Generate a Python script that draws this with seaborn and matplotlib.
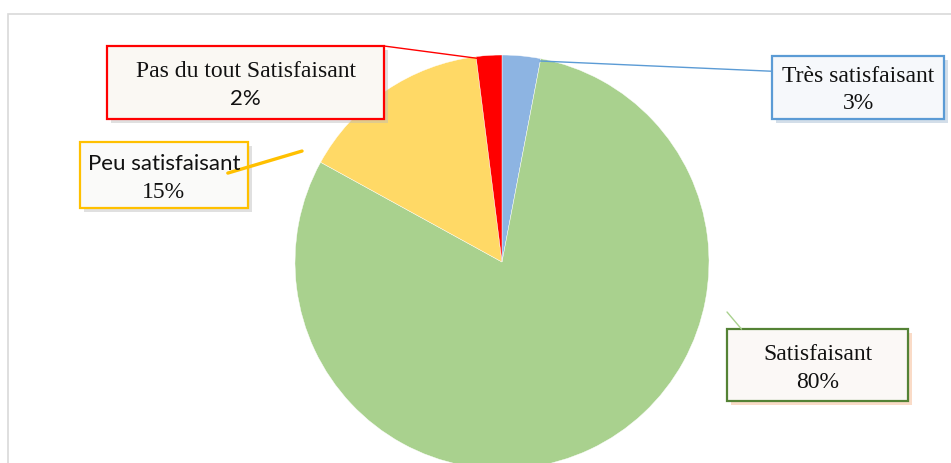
import numpy as np
import matplotlib.pyplot as plt
import matplotlib.transforms as mtransforms
import matplotlib.patheffects as pe
from matplotlib.patches import FancyBboxPatch
import seaborn as sns

# données
labels = ["Très satisfaisant", "Satisfaisant", "Peu satisfaisant", "Pas du tout Satisfaisant"]
values = [3, 80, 15, 2]
pct_labels = ["3%", "80%", "15%", "2%"]
colors = ["#8DB4E2", "#A9D18E", "#FFD966", "#FF0000"]
box_edges = ["#5B9BD5", "#548235", "#FFC000", "#FF0000"]
box_faces = ["#F6F8FB", "#FBF8F6", "#FAFAF9", "#FAF8F3"]
shadows = ["#9FB6CF", "#F4B183", "#BBBBBB", "#BBBBBB"]

sns.set_theme(style="white")
serif = ['Liberation Serif', 'DejaVu Serif']
sans = ['Lato', 'DejaVu Sans']
plt.rcParams['font.family'] = serif

fig = plt.figure(figsize=(9.51, 4.64), dpi=100)
ax = fig.add_axes([0, 0, 1, 1])
ax.pie(values, colors=colors, startangle=90, counterclock=False, radius=1,
       wedgeprops=dict(linewidth=0.3, edgecolor='white'))
ax.set_xlim(-502 / 207, 449 / 207)
ax.set_ylim(-201 / 207, 263 / 207)
ax.set_aspect('auto')
ax.axis('off')

# cadre gris
fig.add_artist(plt.Rectangle((8 / 951, -0.1), 1.2, 449 / 464 + 0.1, transform=fig.transFigure,
                             fill=False, edgecolor='#D9D9D9', lw=1.2, zorder=0))

# étiquettes : centre de la boîte, taille (px), point d'ancrage, relpos, polices
label_pos = [(1.72, 0.8454), (1.5242, -0.498), (-1.633, 0.420), (-1.2391, 0.8671)]
box_size = [(172, 63), (181, 72), (168, 66), (277, 73)]
anchor_pos = [(0.184, 0.971), (1.087, -0.2415), (-0.966, 0.536), (-0.097, 0.981)]
relpos = [(0, 0.75), (0.08, 1.0), (0.88, 0.53), (1.0, 1.0)]
line_fonts = [(serif, serif), (serif, serif), (sans, serif), (serif, sans)]
line_widths = [1.0, 1.0, 2.4, 1.0]
line_colors = ["#5B9BD5", "#A9D18E", "#FFC000", "#FF0000"]

fs = 17
up = mtransforms.offset_copy(ax.transData, fig, y=8.5, units='points')
down = mtransforms.offset_copy(ax.transData, fig, y=-11.5, units='points')
px_w = (ax.get_xlim()[1] - ax.get_xlim()[0]) / 951
px_h = (ax.get_ylim()[1] - ax.get_ylim()[0]) / 464

for i in range(len(labels)):
    cx, cy = label_pos[i]
    w, h = box_size[i][0] * px_w, box_size[i][1] * px_h
    box = FancyBboxPatch((cx - w / 2, cy - h / 2), w, h, boxstyle="square,pad=0",
                         fc=box_faces[i], ec=box_edges[i], lw=1.6, zorder=5)
    box.set_path_effects([
        pe.SimplePatchShadow(offset=(3, -3), shadow_rgbFace=shadows[i], alpha=0.45),
        pe.Normal()])
    ax.add_patch(box)
    start = (cx - w / 2 + relpos[i][0] * w, cy - h / 2 + relpos[i][1] * h)
    ax.annotate("", xy=anchor_pos[i], xytext=start,
                arrowprops=dict(arrowstyle='-', color=line_colors[i], lw=line_widths[i],
                                shrinkA=0, shrinkB=0), zorder=6)
    f1 = fs - 1 if line_fonts[i][0] == sans else fs
    f2 = fs - 1 if line_fonts[i][1] == sans else fs
    ax.text(cx, cy, labels[i], transform=up, ha='center', va='center',
            fontsize=f1, family=line_fonts[i][0], color='#111111', zorder=7)
    ax.text(cx, cy, pct_labels[i], transform=down, ha='center', va='center',
            fontsize=f2, family=line_fonts[i][1], color='#111111', zorder=7)

fig.savefig("out.png", dpi=100)
